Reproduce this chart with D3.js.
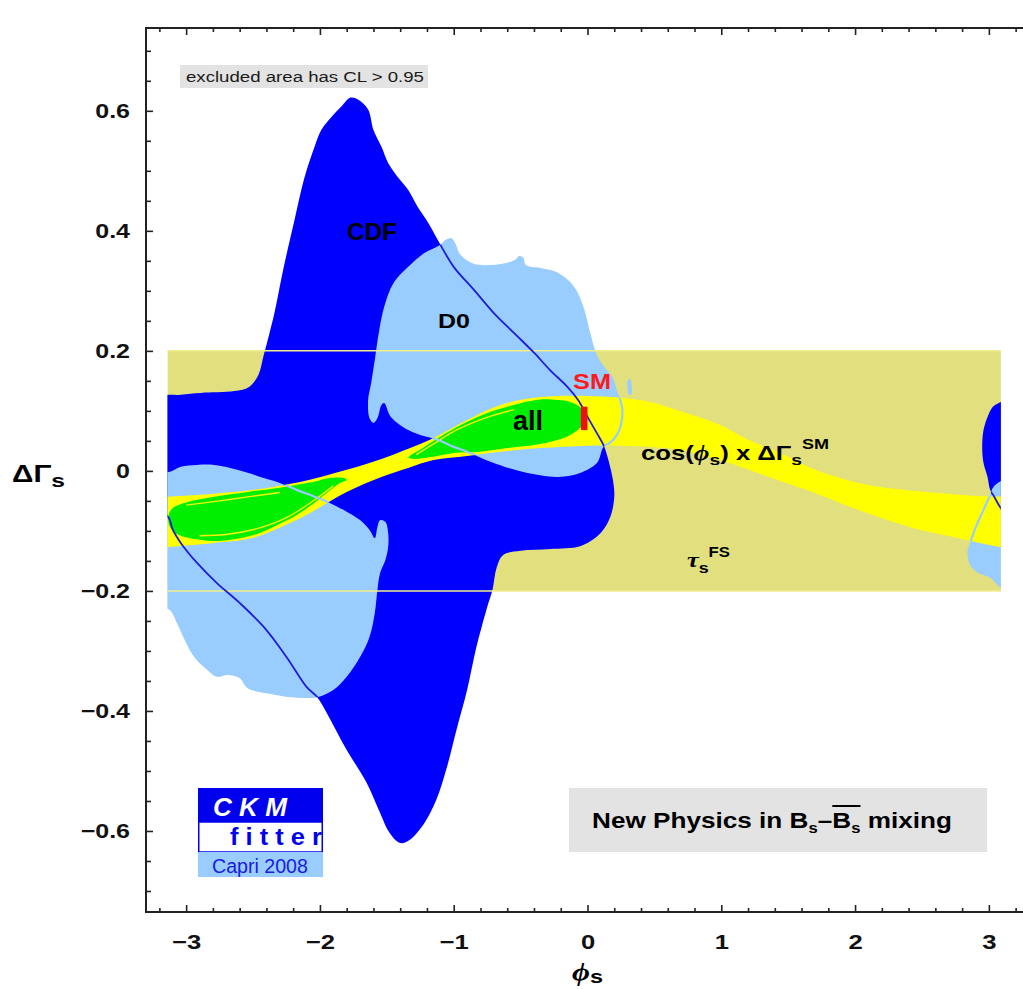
<!DOCTYPE html>
<html><head><meta charset="utf-8">
<script src="https://cdn.jsdelivr.net/npm/d3@7"></script>
<style>
body{margin:0;background:#fff}
svg{display:block}
text{font-family:Arial,"Liberation Sans",sans-serif;white-space:pre}
</style>
</head><body>
<svg id="c" width="1023" height="989"></svg>
<script>
// ---------------- data (phi_s in rad, DeltaGamma_s in ps^-1) ----------------
const xTicks = [-3, -2, -1, 0, 1, 2, 3];
const yTicks = [-0.6, -0.4, -0.2, 0, 0.2, 0.4, 0.6];
const phiRange = [-3.14, 3.09];      // computed region
const tauFS = [-0.2, 0.2];           // tau_s (flavour specific) band

// CDF 95% CL region
const cdfMain = [[-3.20,0.120],[-3.04,0.127],[-2.89,0.130],[-2.64,0.133],[-2.53,0.140],[-2.46,0.160],[-2.42,0.193],[-2.38,0.227],[-2.34,0.263],[-2.27,0.340],[-2.19,0.418],[-2.12,0.485],[-2.04,0.540],[-1.99,0.568],[-1.92,0.588],[-1.84,0.607],[-1.77,0.622],[-1.71,0.618],[-1.64,0.602],[-1.60,0.568],[-1.54,0.540],[-1.49,0.513],[-1.42,0.490],[-1.34,0.468],[-1.27,0.440],[-1.19,0.413],[-1.12,0.385],[-1.00,0.340],[-0.85,0.302],[-0.70,0.263],[-0.55,0.230],[-0.40,0.197],[-0.28,0.168],[-0.15,0.140],[-0.07,0.118],[0.00,0.090],[0.07,0.063],[0.12,0.043],[0.15,0.023],[0.19,-0.015],[0.20,-0.043],[0.17,-0.077],[0.10,-0.103],[-0.05,-0.125],[-0.28,-0.130],[-0.50,-0.133],[-0.63,-0.140],[-0.68,-0.162],[-0.71,-0.198],[-0.75,-0.227],[-0.83,-0.293],[-0.90,-0.365],[-0.98,-0.432],[-1.05,-0.493],[-1.13,-0.548],[-1.22,-0.587],[-1.33,-0.615],[-1.40,-0.620],[-1.48,-0.603],[-1.55,-0.570],[-1.65,-0.520],[-1.80,-0.465],[-1.95,-0.403],[-2.02,-0.377],[-2.10,-0.360],[-2.25,-0.310],[-2.42,-0.260],[-2.60,-0.220],[-2.77,-0.187],[-2.92,-0.153],[-3.04,-0.120],[-3.10,-0.098],[-3.13,-0.078],[-3.20,-0.065]];
const cdfEdge = [[3.20,0.125],[3.09,0.115],[3.03,0.107],[2.99,0.090],[2.96,0.068],[2.95,0.040],[2.96,0.013],[2.99,-0.010],[3.01,-0.032],[3.04,-0.043],[3.09,-0.062],[3.20,-0.085]];

// D0 95% CL region
const d0Upper = [[-1.10,0.377],[-1.06,0.385],[-1.02,0.388],[-0.99,0.380],[-0.95,0.360],[-0.85,0.345],[-0.72,0.343],[-0.60,0.347],[-0.54,0.352],[-0.51,0.358],[-0.48,0.355],[-0.46,0.343],[-0.35,0.338],[-0.22,0.330],[-0.10,0.307],[-0.03,0.273],[0.02,0.230],[0.07,0.193],[0.13,0.172],[0.19,0.155],[0.22,0.135],[0.24,0.122],[0.26,0.102],[0.25,0.077],[0.22,0.060],[0.17,0.047],[0.12,0.040],[0.07,0.013],[-0.05,-0.003],[-0.22,-0.010],[-0.48,-0.002],[-0.72,0.015],[-0.90,0.032],[-1.00,0.040],[-1.12,0.052],[-1.25,0.060],[-1.34,0.068],[-1.47,0.090],[-1.52,0.113],[-1.54,0.110],[-1.57,0.088],[-1.60,0.080],[-1.63,0.088],[-1.64,0.118],[-1.62,0.143],[-1.59,0.185],[-1.56,0.230],[-1.52,0.273],[-1.45,0.313],[-1.34,0.340],[-1.22,0.363]];
const d0Lower = [[-3.20,0.000],[-3.13,-0.002],[-3.04,0.007],[-2.92,0.010],[-2.79,0.010],[-2.67,0.005],[-2.54,-0.003],[-2.42,-0.012],[-2.30,-0.020],[-2.17,-0.032],[-2.04,-0.043],[-1.93,-0.053],[-1.80,-0.068],[-1.70,-0.082],[-1.63,-0.098],[-1.59,-0.112],[-1.57,-0.093],[-1.55,-0.082],[-1.51,-0.085],[-1.49,-0.103],[-1.49,-0.127],[-1.51,-0.148],[-1.55,-0.170],[-1.57,-0.198],[-1.59,-0.237],[-1.63,-0.277],[-1.70,-0.310],[-1.80,-0.343],[-1.90,-0.365],[-2.02,-0.377],[-2.17,-0.378],[-2.34,-0.373],[-2.54,-0.362],[-2.60,-0.345],[-2.69,-0.340],[-2.77,-0.343],[-2.84,-0.332],[-2.94,-0.310],[-3.01,-0.282],[-3.07,-0.253],[-3.12,-0.232],[-3.20,-0.225]];
const d0Edge = [[3.20,-0.010],[3.09,-0.017],[3.03,-0.028],[3.01,-0.040],[2.96,-0.065],[2.90,-0.095],[2.86,-0.120],[2.84,-0.135],[2.86,-0.157],[2.92,-0.170],[3.01,-0.178],[3.09,-0.195],[3.20,-0.210]];
const d0Blob = [[0.30,0.150],[0.32,0.153],[0.33,0.140],[0.33,0.128],[0.31,0.127],[0.30,0.138]];

// cos(phi_s) x DeltaGamma_s^SM band
const bandPhi   = [-3.14,-2.79,-2.51,-2.14,-1.80,-1.54,-1.34,-1.15,-0.90,-0.65,-0.35,0.00,0.25,0.47,0.69,0.99,1.19,1.44,1.69,1.94,2.19,2.43,2.69,2.93,3.09];
const bandUpper = [-0.043,-0.038,-0.032,-0.018,0.002,0.020,0.037,0.055,0.085,0.110,0.123,0.125,0.122,0.115,0.100,0.077,0.053,0.030,0.003,-0.015,-0.027,-0.033,-0.038,-0.042,-0.043];
const bandLower = [-0.127,-0.120,-0.112,-0.078,-0.035,-0.010,0.005,0.018,0.025,0.032,0.038,0.042,0.042,0.040,0.035,0.018,0.003,-0.017,-0.036,-0.058,-0.078,-0.095,-0.108,-0.120,-0.127];

// combined ("all") regions
const allUpper = [[-1.34,0.022],[-1.22,0.040],[-1.10,0.057],[-0.97,0.074],[-0.85,0.087],[-0.72,0.099],[-0.60,0.107],[-0.48,0.114],[-0.35,0.119],[-0.22,0.118],[-0.13,0.115],[-0.05,0.105],[-0.03,0.090],[-0.05,0.073],[-0.13,0.060],[-0.22,0.052],[-0.40,0.043],[-0.60,0.038],[-0.80,0.032],[-1.00,0.030],[-1.17,0.023],[-1.30,0.020]];
const allLower = [[-3.10,-0.062],[-2.99,-0.052],[-2.79,-0.043],[-2.54,-0.035],[-2.30,-0.028],[-2.17,-0.023],[-2.04,-0.018],[-1.93,-0.012],[-1.82,-0.012],[-1.80,-0.015],[-1.85,-0.020],[-1.95,-0.037],[-2.04,-0.053],[-2.17,-0.073],[-2.30,-0.088],[-2.47,-0.105],[-2.64,-0.114],[-2.79,-0.117],[-2.92,-0.114],[-3.04,-0.108],[-3.10,-0.100],[-3.13,-0.088],[-3.13,-0.073]];
const allInnerLines = [
  [[-1.28,0.027],[-1.15,0.045],[-1.00,0.066],[-0.85,0.081],[-0.70,0.093],[-0.55,0.102]],
  [[-2.90,-0.108],[-2.70,-0.106],[-2.45,-0.095],[-2.25,-0.078],[-2.05,-0.050],[-1.90,-0.025]],
  [[-3.00,-0.057],[-2.75,-0.050],[-2.50,-0.042],[-2.30,-0.036]]
];

// Standard Model point
const smPhi = [-0.05, 0.00];
const smDG  = [0.068, 0.107];

// ---------------- drawing ----------------
const C = {dark:"#0000ff", light:"#99ccff", khaki:"#e1df7e", yellow:"#ffff00", green:"#00ee00", line:"#1e1ed8"};
const svg = d3.select("#c");
const xs = d3.scaleLinear().domain([-3.3, 3.3]).range([146, 1029]);
const ys = d3.scaleLinear().domain([-0.735, 0.738]).range([912, 28]);

const closed = d3.line().x(d=>xs(d[0])).y(d=>ys(d[1])).curve(d3.curveCatmullRomClosed.alpha(0.5));
const open = d3.line().x(d=>xs(d[0])).y(d=>ys(d[1])).curve(d3.curveCatmullRom.alpha(0.5));
const area = d3.area().x((d,i)=>xs(bandPhi[i])).y0((d,i)=>ys(bandLower[i])).y1((d,i)=>ys(bandUpper[i])).curve(d3.curveCatmullRom.alpha(0.5));

const defs = svg.append("defs");
defs.append("clipPath").attr("id","clip").append("rect")
  .attr("x", xs(phiRange[0])).attr("y", ys(0.738))
  .attr("width", xs(phiRange[1]) - xs(phiRange[0])).attr("height", ys(-0.735) - ys(0.738));
// outline clip for CDF contour: visible only inside D0 regions and the yellow band
const cdfLineClip = defs.append("clipPath").attr("id","cdfline");
[d0Upper, d0Lower, d0Edge].forEach(p => cdfLineClip.append("path").attr("d", closed(p)));
cdfLineClip.append("path").attr("d", area(bandPhi));
// outline clip for D0 contour: visible only inside the yellow band
defs.append("clipPath").attr("id","d0line").append("path").attr("d", area(bandPhi));

const plot = svg.append("g").attr("clip-path","url(#clip)");

// tau_s FS band
plot.append("rect").attr("x", xs(phiRange[0])).attr("y", ys(tauFS[1]))
  .attr("width", xs(phiRange[1]) - xs(phiRange[0])).attr("height", ys(tauFS[0]) - ys(tauFS[1]))
  .attr("fill", C.khaki);

[cdfMain, cdfEdge].forEach(p => plot.append("path").attr("d", closed(p)).attr("fill", C.dark));
[d0Upper, d0Lower, d0Edge, d0Blob].forEach(p => plot.append("path").attr("d", closed(p)).attr("fill", C.light));

// band border lines
tauFS.forEach(v => plot.append("line").attr("x1", xs(phiRange[0])).attr("x2", xs(phiRange[1]))
  .attr("y1", ys(v)).attr("y2", ys(v)).attr("stroke", "#f2ee8c").attr("stroke-width", 1.5));

// yellow band
plot.append("path").attr("d", area(bandPhi)).attr("fill", C.yellow);

// green regions
[allUpper, allLower].forEach(p => plot.append("path").attr("d", closed(p)).attr("fill", C.green));
allInnerLines.forEach(p => plot.append("path").attr("d", open(p)).attr("fill","none").attr("stroke", "#f4f400").attr("stroke-width", 1.4));

// outlines
const d0L = plot.append("g").attr("clip-path","url(#d0line)");
[d0Upper, d0Lower, d0Edge].forEach(p => d0L.append("path").attr("d", closed(p)).attr("fill","none").attr("stroke", C.light).attr("stroke-width", 2.2));
const cdfL = plot.append("g").attr("clip-path","url(#cdfline)");
[cdfMain, cdfEdge].forEach(p => cdfL.append("path").attr("d", closed(p)).attr("fill","none").attr("stroke", C.line).attr("stroke-width", 1.8));

// SM
plot.append("rect").attr("x", xs(smPhi[0])).attr("y", ys(smDG[1]))
  .attr("width", xs(smPhi[1]) - xs(smPhi[0])).attr("height", ys(smDG[0]) - ys(smDG[1])).attr("fill", "#ee1111");

// ---------------- axes ----------------
function stretch(sel, f) {
  sel.each(function(){ const w = this.getComputedTextLength();
    d3.select(this).attr("textLength", w*f).attr("lengthAdjust","spacingAndGlyphs"); });
}
const fmtY = d => d === 0 ? "0" : d3.format(".1f")(d);
const yMinor = d3.range(-0.70, 0.7001, 0.05).filter(v => !yTicks.some(m => Math.abs(m - v) < 1e-6));
const xMinor = d3.range(-3.2, 3.2001, 0.2).filter(v => !xTicks.some(m => Math.abs(m - v) < 1e-6));

function styleAxis(g) {
  g.select(".domain").remove();
  g.selectAll(".tick line").attr("stroke", "#222").attr("stroke-width", 1.6);
  g.selectAll(".tick text").attr("fill", "#111").style("font-size", "20px").style("font-weight", "bold");
}
const left = svg.append("g").attr("transform", `translate(${xs(-3.3)},0)`)
  .call(d3.axisLeft(ys).tickValues(yTicks).tickSize(-7).tickPadding(16).tickFormat(fmtY)).call(styleAxis);
stretch(left.selectAll(".tick text"), 1.25);
svg.append("g").attr("transform", `translate(${xs(-3.3)},0)`)
  .call(d3.axisLeft(ys).tickValues(yMinor).tickSize(-5).tickFormat("")).call(styleAxis);

const bottom = svg.append("g").attr("transform", `translate(0,${ys(-0.735)})`)
  .call(d3.axisBottom(xs).tickValues(xTicks).tickSize(-7).tickPadding(23).tickFormat(d3.format("d"))).call(styleAxis);
stretch(bottom.selectAll(".tick text"), 1.28);
svg.append("g").attr("transform", `translate(0,${ys(-0.735)})`)
  .call(d3.axisBottom(xs).tickValues(xMinor).tickSize(-4).tickFormat("")).call(styleAxis);
svg.append("g").attr("transform", `translate(0,${ys(0.738)})`)
  .call(d3.axisTop(xs).tickValues(xTicks).tickSize(-7).tickFormat("")).call(styleAxis);
svg.append("g").attr("transform", `translate(0,${ys(0.738)})`)
  .call(d3.axisTop(xs).tickValues(xMinor).tickSize(-4).tickFormat("")).call(styleAxis);

svg.append("rect").attr("x", xs(-3.3)).attr("y", ys(0.738))
  .attr("width", xs(3.3) - xs(-3.3)).attr("height", ys(-0.735) - ys(0.738))
  .attr("fill","none").attr("stroke","#222").attr("stroke-width", 2);

// ---------------- text ----------------
const SERIF = '"Liberation Serif","DejaVu Serif",serif';
function richText(parent, x, y, runs, targetW) {
  const g = parent.append("g");
  let cx = 0;
  runs.forEach(r => {
    const t = g.append("text").attr("x", cx).attr("y", r.dy || 0)
      .attr("fill", r.fill || "#000")
      .style("font-size", r.size + "px")
      .style("font-weight", r.weight || "bold")
      .style("font-style", r.italic ? "italic" : "normal")
      .text(r.t);
    if (r.family) t.style("font-family", r.family);
    r.x0 = cx; r.w = t.node().getComputedTextLength();
    cx += r.w + (r.gap || 0);
  });
  const sx = targetW ? targetW / cx : 1;
  g.attr("transform", `translate(${x},${y}) scale(${sx},1)`);
  return { g, runs, sx };
}
const S = "\u00A0";

// excluded-area note
svg.append("rect").attr("x",180).attr("y",65).attr("width",248).attr("height",23).attr("fill","#e3e3e3");
richText(svg, 186, 82, [{t:"excluded area has CL > 0.95", size:15, weight:"normal", fill:"#1a1a1a"}], 238);

// region labels
richText(svg, 347, 240, [{t:"CDF", size:23}], 50);
richText(svg, 438, 328, [{t:"D0", size:21}], 32);
richText(svg, 513, 430, [{t:"all", size:28}], 30);
richText(svg, 573, 389, [{t:"SM", size:22, fill:"#ff1a1a"}], 38);
richText(svg, 641, 460, [
  {t:"cos(", size:20},
  {t:"ϕ", size:21, italic:true, family:SERIF},
  {t:"s", size:15, dy:5},
  {t:")"+S+"x"+S, size:20},
  {t:"ΔΓ", size:20},
  {t:"s", size:15, dy:5},
  {t:"SM", size:14, dy:-11}
], 188);
richText(svg, 687, 567, [
  {t:"τ", size:22, italic:true, family:SERIF},
  {t:"s", size:15, dy:6},
  {t:"FS", size:14, dy:-10}
], 43);

// title box
svg.append("rect").attr("x",569).attr("y",788).attr("width",418).attr("height",64).attr("fill","#e3e3e3");
const np = richText(svg, 592, 828, [
  {t:"New Physics in B", size:22},
  {t:"s", size:14, dy:5},
  {t:"–", size:22},
  {t:"B", size:22},
  {t:"s", size:14, dy:5},
  {t:S+"mixing", size:22}
], 360);
np.g.append("line").attr("x1", np.runs[3].x0).attr("x2", np.runs[4].x0 + np.runs[4].w)
  .attr("y1", -22).attr("y2", -22).attr("stroke", "#000").attr("stroke-width", 2);

// axis titles
richText(svg, 12, 482, [{t:"ΔΓ", size:23}, {t:"s", size:19, dy:5}], 53);
richText(svg, 572, 981, [{t:"ϕ", size:25, italic:true, family:SERIF}, {t:"s", size:19, dy:2}], 31);

// CKMfitter logo
const logo = svg.append("g");
logo.append("rect").attr("x",198).attr("y",788).attr("width",125).attr("height",34).attr("fill","#0000ee");
logo.append("rect").attr("x",198.75).attr("y",822).attr("width",123.5).attr("height",30).attr("fill","#fff").attr("stroke","#0000ee").attr("stroke-width",1.5);
logo.append("rect").attr("x",198).attr("y",852).attr("width",125).attr("height",25).attr("fill","#99ccff");
richText(logo, 213, 816, [{t:"C K M", size:26, italic:true, fill:"#fff"}], 74);
richText(logo, 230, 845, [{t:"f i t t e r", size:24, fill:"#0000ee"}], 92);
richText(logo, 212, 873, [{t:"Capri 2008", size:20, weight:"normal", fill:"#1a1ae6"}], 96);
</script>
</body></html>
